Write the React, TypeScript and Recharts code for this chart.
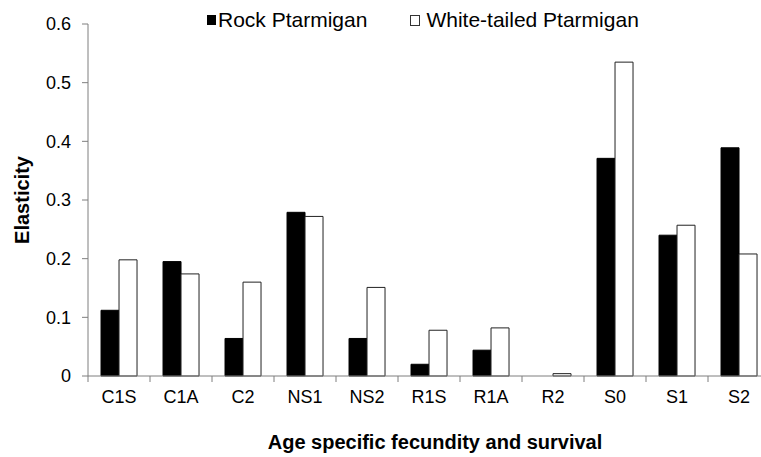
import { BarChart, Bar, XAxis, YAxis, Legend, Label } from 'recharts';

const categories = ['C1S', 'C1A', 'C2', 'NS1', 'NS2', 'R1S', 'R1A', 'R2', 'S0', 'S1', 'S2'];
const rockPtarmigan = [0.112, 0.195, 0.064, 0.279, 0.064, 0.02, 0.044, 0, 0.371, 0.24, 0.389];
const whiteTailedPtarmigan = [0.198, 0.174, 0.16, 0.272, 0.151, 0.078, 0.082, 0.004, 0.535, 0.257, 0.208];
const yTicks = [0, 0.1, 0.2, 0.3, 0.4, 0.5, 0.6];
const seriesNames = ['Rock Ptarmigan', 'White-tailed Ptarmigan'];

const data = categories.map((cat, i) => ({
  cat,
  rock: rockPtarmigan[i],
  white: whiteTailedPtarmigan[i],
}));

const FONT = '"Liberation Sans", Arial, sans-serif';
const AXIS = '#7f7f7f';

// category labels in the middle, tick marks on the boundaries between categories
function CategoryTick(props: any) {
  const { x, y, width, visibleTicksCount, payload, index } = props;
  const half = width / visibleTicksCount / 2;
  return (
    <g>
      <line x1={x - half} x2={x - half} y1={y} y2={y + 6} stroke={AXIS} />
      {index === visibleTicksCount - 1 && (
        <line x1={x + half} x2={x + half} y1={y} y2={y + 6} stroke={AXIS} />
      )}
      <text x={x} y={y + 27} textAnchor="middle" fontSize={18} fill="#000">
        {payload.value}
      </text>
    </g>
  );
}

function LegendContent() {
  return (
    <div style={{ display: 'flex', alignItems: 'center', fontFamily: FONT, fontSize: 21, color: '#000' }}>
      <span style={{ display: 'inline-block', width: 9, height: 10, background: '#000', marginRight: 2 }} />
      <span>{seriesNames[0]}</span>
      <span
        style={{
          display: 'inline-block',
          width: 8,
          height: 9,
          border: '1px solid #333',
          background: '#fff',
          marginLeft: 43,
          marginRight: 6,
        }}
      />
      <span>{seriesNames[1]}</span>
    </div>
  );
}

export default function App() {
  return (
    <div style={{ position: 'absolute', left: 0, top: 0, width: 761, height: 457, overflow: 'hidden', background: '#fff' }}>
      <BarChart
        width={780}
        height={457}
        data={data}
        margin={{ top: 24, right: 10, bottom: 0, left: 0 }}
        barCategoryGap="21%"
        barGap={0}
        style={{ fontFamily: FONT }}
      >
        <XAxis
          dataKey="cat"
          height={81}
          interval={0}
          tickLine={false}
          tickSize={0}
          tickMargin={0}
          axisLine={{ stroke: AXIS }}
          tick={<CategoryTick />}
        >
          <Label
            content={({ viewBox }: any) => (
              <text
                x={viewBox.x + viewBox.width / 2 + 6}
                y={viewBox.y + 73}
                textAnchor="middle"
                fontSize={20}
                fontWeight="bold"
                fill="#000"
              >
                Age specific fecundity and survival
              </text>
            )}
          />
        </XAxis>
        <YAxis
          width={88}
          domain={[0, 0.6]}
          ticks={yTicks}
          tickSize={6}
          tickMargin={11}
          axisLine={{ stroke: AXIS }}
          tickLine={{ stroke: AXIS }}
          tick={{ fill: '#000', fontSize: 18 }}
        >
          <Label
            content={({ viewBox }: any) => {
              const cx = viewBox.x + 22;
              const cy = viewBox.y + viewBox.height / 2;
              return (
                <text
                  x={cx}
                  y={cy}
                  transform={`rotate(-90 ${cx} ${cy})`}
                  textAnchor="middle"
                  dominantBaseline="central"
                  fontSize={20}
                  fontWeight="bold"
                  fill="#000"
                >
                  Elasticity
                </text>
              );
            }}
          />
        </YAxis>
        <Legend
          verticalAlign="middle"
          align="center"
          layout="horizontal"
          wrapperStyle={{ top: 8, left: 207, width: 520 }}
          content={<LegendContent />}
        />
        <Bar dataKey="rock" name={seriesNames[0]} fill="#000" stroke="#000" isAnimationActive={false} />
        <Bar dataKey="white" name={seriesNames[1]} fill="#fff" stroke="#222" isAnimationActive={false} />
      </BarChart>
    </div>
  );
}
